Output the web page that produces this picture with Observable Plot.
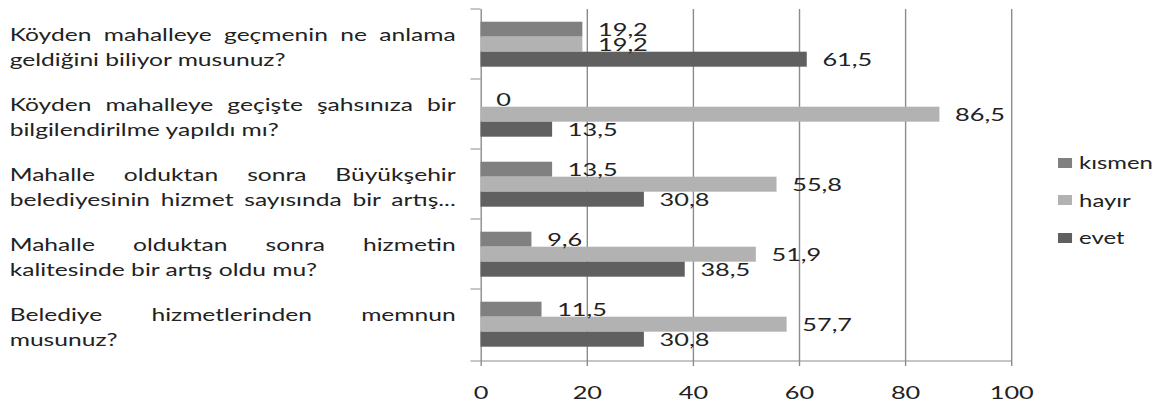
<!DOCTYPE html>
<html><head><meta charset="utf-8">
<script src="https://cdn.jsdelivr.net/npm/d3@7"></script>
<script src="https://cdn.jsdelivr.net/npm/@observablehq/plot@0.6"></script>
<style>
html,body{margin:0;padding:0;background:#fff;}
#wrap{position:relative;width:1162px;height:405px;overflow:hidden;}
#legend{position:absolute;left:1058px;top:144px;transform-origin:0 0;}
#legend > div{font-family:Lato,sans-serif !important;font-size:17px !important;color:#222 !important;margin:0 !important;}
#legend > div > div{height:37.5px;margin:0;padding:0;}
#legend svg{margin-right:5px !important;}
</style></head><body><div id="wrap"><div id="chart"></div><div id="legend"></div></div>
<script>
const questions = [
  "Köyden mahalleye geçmenin ne anlama\ngeldiğini biliyor musunuz?",
  "Köyden mahalleye geçişte şahsınıza bir\nbilgilendirilme yapıldı mı?",
  "Mahalle olduktan sonra Büyükşehir\nbelediyesinin hizmet sayısında bir artış...",
  "Mahalle olduktan sonra hizmetin\nkalitesinde bir artış oldu mu?",
  "Belediye hizmetlerinden memnun\nmusunuz?"
];
const series = ["kısmen", "hayır", "evet"];
const kismen = [19.2, 0, 13.5, 9.6, 11.5];
const hayir  = [19.2, 86.5, 55.8, 51.9, 57.7];
const evet   = [61.5, 13.5, 30.8, 38.5, 30.8];
const xTicks = [0, 20, 40, 60, 80, 100];
const colors = ["#808080", "#b2b2b2", "#606060"];

const rows = [];
questions.forEach((q, i) => {
  rows.push({q, s: series[0], v: kismen[i]});
  rows.push({q, s: series[1], v: hayir[i]});
  rows.push({q, s: series[2], v: evet[i]});
});
const fmt = v => String(v).replace(".", ",");

const FONT = "Lato";
const LABEL_SIZE = 17.5;
function measure(str, size) {
  const svg = d3.select("body").append("svg");
  const t = svg.append("text").attr("font-family", FONT).attr("font-size", size).text(str);
  const w = t.node().getComputedTextLength();
  svg.remove();
  return w;
}
const S = 276 / measure("geldiğini biliyor musunuz?", LABEL_SIZE);

const W = 1162 / S;
const plot = Plot.plot({
  width: W, height: 405,
  marginLeft: 480.5 / S, marginRight: 151 / S, marginTop: 7.3, marginBottom: 44,
  style: {fontFamily: FONT, fontSize: "18px", color: "#222", background: "#fff"},
  x: {domain: [0, 100], axis: null},
  fy: {domain: questions, padding: 0, axis: null},
  y: {domain: series, paddingInner: 0, paddingOuter: 0.77, align: 0.5, axis: null},
  color: {domain: series, range: colors},
  marks: [
    Plot.gridX(xTicks, {stroke: "#8c8c8c", strokeOpacity: 1}),
    Plot.barX(rows, {fy: "q", y: "s", x: "v", fill: "s"}),
    Plot.text(rows, {fy: "q", y: "s", x: "v", text: d => fmt(d.v), dx: 15 / S, dy: 0.5, textAnchor: "start", fontSize: 18, fill: "#222"}),
    Plot.text(questions, {fy: d => d, text: d => d, frameAnchor: "left", dx: -(480.5 - 9) / S, dy: 1.4, textAnchor: "start", lineHeight: 24.5 / LABEL_SIZE, fontSize: LABEL_SIZE, fill: "#222"}),
    Plot.axisX(xTicks, {tickSize: 7, tickPadding: 20, stroke: "#8c8c8c", fill: "#222", fontSize: 18, label: null})
  ]
});

plot.setAttribute("preserveAspectRatio", "none");
plot.setAttribute("width", 1162);
plot.setAttribute("height", 405);
plot.style.width = "1162px";
plot.style.height = "405px";
plot.style.maxWidth = "none";
document.getElementById("chart").appendChild(plot);

// justify the question labels (all lines but the last; the last too if nearly full)
const target = (455 - 9) / S;
const firstLines = new Set(questions.map(q => q.split("\n")[0]));
d3.select(plot).selectAll("text").each(function () {
  const tsp = Array.from(this.querySelectorAll("tspan"));
  if (tsp.length < 2 || !firstLines.has(tsp[0].textContent)) return;
  tsp.forEach((t, j) => {
    const len = t.getComputedTextLength();
    const spaces = (t.textContent.match(/ /g) || []).length;
    const last = j === tsp.length - 1;
    if (spaces > 0 && (!last || len > 0.9 * target)) {
      const ws = (target - len) / spaces;
      t.setAttribute("word-spacing", ws);
      t.style.wordSpacing = ws + "px";
    }
  });
});

// category boundary ticks + bottom axis line, from the plot's scales
const fyS = plot.scale("fy"), xS = plot.scale("x");
const x0 = xS.apply(0), x1 = xS.apply(100);
const yBot = fyS.range[1];
const bounds = fyS.domain.map(d => fyS.apply(d)).concat([yBot]);
const g = d3.select(plot).append("g").attr("stroke", "#8c8c8c").attr("stroke-width", 1);
bounds.forEach(b => g.append("line").attr("x1", x0 - 10 / S).attr("x2", x0).attr("y1", b).attr("y2", b));
g.append("line").attr("x1", x0).attr("x2", x1).attr("y1", yBot).attr("y2", yBot);

// legend
const leg = Plot.legend({color: {domain: series, range: colors}, legend: "swatches", columns: 1, swatchSize: 10});
const legDiv = document.getElementById("legend");
legDiv.appendChild(leg);
legDiv.style.transform = `scaleX(${S})`;
</script></body></html>
